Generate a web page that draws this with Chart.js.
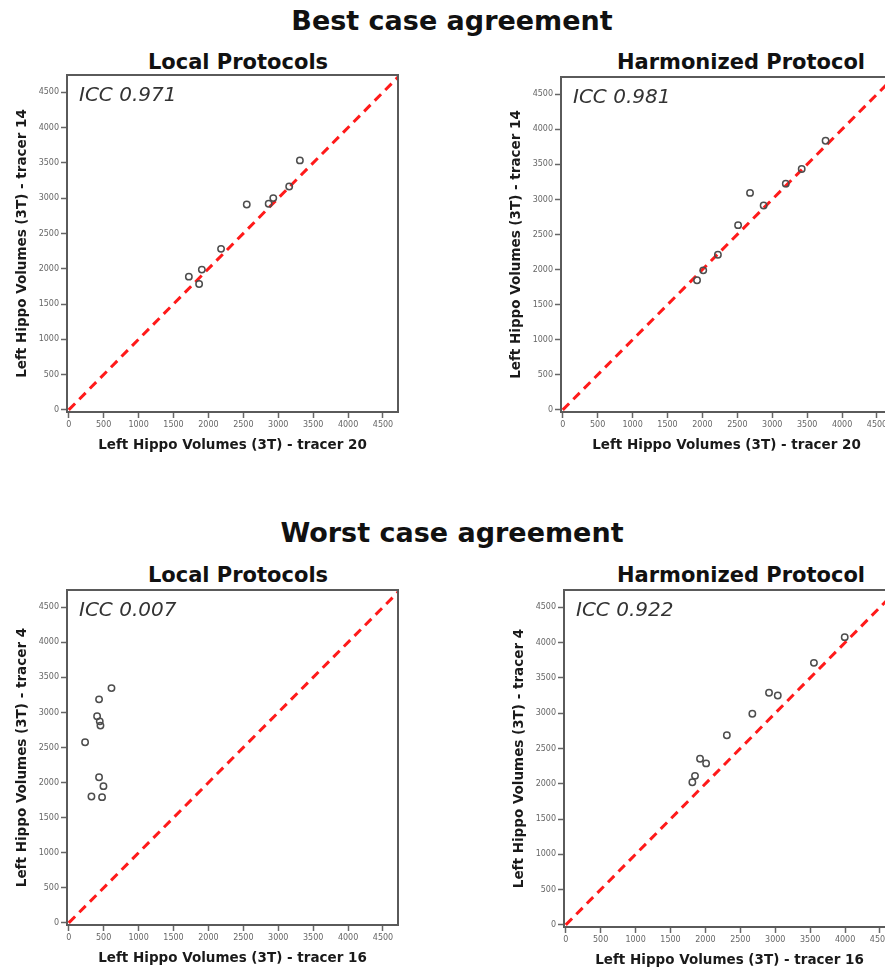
<!DOCTYPE html>
<html>
<head>
<meta charset="utf-8">
<script src="https://cdn.jsdelivr.net/npm/chart.js@4"></script>
<style>
  html, body { margin: 0; padding: 0; background: #fff; overflow: hidden; }
  body { width: 885px; height: 969px; position: relative; }
  .head {
    position: absolute; width: 600px; text-align: center; white-space: nowrap;
    font-family: "DejaVu Sans", sans-serif; font-weight: bold; color: #111;
  }
  .big { font-size: 27px; line-height: 32px; }
  .sub { font-size: 21px; line-height: 26px; }
  canvas { position: absolute; }
</style>
</head>
<body>
<div class="head big" style="left:152px; top:5px;">Best case agreement</div>
<div class="head sub" style="left:-62px; top:49px;">Local Protocols</div>
<div class="head sub" style="left:441px; top:49px;">Harmonized Protocol</div>
<canvas id="bestLocal"></canvas>
<canvas id="bestHarm"></canvas>

<div class="head big" style="left:152px; top:517px;">Worst case agreement</div>
<div class="head sub" style="left:-62px; top:562px;">Local Protocols</div>
<div class="head sub" style="left:441px; top:562px;">Harmonized Protocol</div>
<canvas id="worstLocal"></canvas>
<canvas id="worstHarm"></canvas>

<script>
// axis ticks (both axes)
const tickValues = [0, 500, 1000, 1500, 2000, 2500, 3000, 3500, 4000, 4500];
// line of identity
const identity = [0, 4800];

// best case: tracer 20 (x) vs tracer 14 (y)
const bestLocalX = [1720, 1867, 1906, 2181, 2549, 2863, 2929, 3157, 3310];
const bestLocalY = [1888, 1784, 1988, 2282, 2910, 2920, 3001, 3166, 3535];
const bestHarmX = [1923, 2012, 2222, 2511, 2682, 2877, 3194, 3422, 3764];
const bestHarmY = [1847, 1989, 2212, 2633, 3093, 2913, 3225, 3434, 3836];

// worst case: tracer 16 (x) vs tracer 4 (y)
const worstLocalX = [612, 434, 406, 444, 454, 234, 434, 497, 325, 477];
const worstLocalY = [3347, 3186, 2945, 2873, 2812, 2575, 2077, 1949, 1802, 1792];
const worstHarmX = [1813, 1851, 1923, 2010, 2307, 2672, 2911, 3036, 3554, 3995];
const worstHarmY = [2022, 2112, 2354, 2288, 2687, 2991, 3290, 3251, 3713, 4077];

const iccLabels = ['ICC 0.971', 'ICC 0.981', 'ICC 0.007', 'ICC 0.922'];

const AXIS_W = 60, AXIS_H = 46, PAD_T = 12, PAD_R = 12;

// frame around the plot and the ICC text
const framePlugin = {
  id: 'frame',
  afterDraw(chart, args, opts) {
    const a = chart.chartArea;
    const ctx = chart.ctx;
    ctx.save();
    ctx.strokeStyle = '#5a5a5a';
    ctx.lineWidth = 2;
    ctx.strokeRect(a.left, a.top, a.right - a.left, a.bottom - a.top);
    ctx.fillStyle = '#333';
    ctx.font = 'italic 20px "DejaVu Sans"';
    ctx.textBaseline = 'alphabetic';
    ctx.fillText(opts.label, a.left + 12, a.top + 26);
    ctx.restore();
  }
};

function makePanel(id, box, xs, ys, xTitle, yTitle, icc) {
  const canvas = document.getElementById(id);
  canvas.width = box.w + AXIS_W + PAD_R;
  canvas.height = box.h + PAD_T + AXIS_H;
  canvas.style.left = (box.left - AXIS_W) + 'px';
  canvas.style.top = (box.top - PAD_T) + 'px';

  const points = xs.map((x, i) => ({x: x, y: ys[i]}));
  const line = identity.map(v => ({x: v, y: v}));

  const tickFont = {family: 'DejaVu Sans', size: 8};
  const titleFont = {family: 'DejaVu Sans', size: 13.5, weight: 'bold'};
  const grid = {drawOnChartArea: false, drawTicks: true, tickLength: 6, tickColor: '#666', tickWidth: 1.5};
  const plain = v => String(v);

  new Chart(canvas, {
    type: 'scatter',
    data: {
      datasets: [{
        data: points,
        pointStyle: 'circle',
        pointRadius: 3.2,
        pointBorderWidth: 1.5,
        pointBorderColor: '#4d4d4d',
        pointBackgroundColor: 'rgba(255,255,255,0)'
      }, {
        data: line,
        showLine: true,
        borderColor: '#ff1a1a',
        borderWidth: 3,
        borderDash: [9, 6],
        pointRadius: 0
      }]
    },
    options: {
      responsive: false,
      animation: false,
      layout: {padding: {left: 0, top: PAD_T, right: PAD_R, bottom: 0}},
      plugins: {
        legend: {display: false},
        tooltip: {enabled: false},
        frame: {label: icc}
      },
      scales: {
        x: {
          type: 'linear', min: -25, max: 4715,
          afterBuildTicks: s => { s.ticks = tickValues.map(v => ({value: v})); },
          afterFit: s => { s.height = AXIS_H; },
          grid: grid,
          border: {display: false},
          ticks: {color: '#666', font: tickFont, padding: 2, maxRotation: 0, autoSkip: false, callback: plain},
          title: {display: true, text: xTitle, color: '#1a1a1a', font: titleFont, padding: {top: 0, bottom: 4}}
        },
        y: {
          type: 'linear', min: -30, max: 4745,
          afterBuildTicks: s => { s.ticks = tickValues.map(v => ({value: v})); },
          afterFit: s => { s.width = AXIS_W; },
          grid: grid,
          border: {display: false},
          ticks: {color: '#666', font: tickFont, padding: 2, autoSkip: false, callback: plain},
          title: {display: true, text: yTitle, color: '#1a1a1a', font: titleFont, padding: {top: 7, bottom: 0}}
        }
      }
    },
    plugins: [framePlugin]
  });
}

document.addEventListener('DOMContentLoaded', function(){
  makePanel('bestLocal', {left: 67, top: 75, w: 331, h: 337}, bestLocalX, bestLocalY,
    'Left Hippo Volumes (3T) - tracer 20', 'Left Hippo Volumes (3T) - tracer 14', iccLabels[0]);
  makePanel('bestHarm', {left: 561, top: 77, w: 331, h: 335}, bestHarmX, bestHarmY,
    'Left Hippo Volumes (3T) - tracer 20', 'Left Hippo Volumes (3T) - tracer 14', iccLabels[1]);
  makePanel('worstLocal', {left: 67, top: 590, w: 331, h: 335}, worstLocalX, worstLocalY,
    'Left Hippo Volumes (3T) - tracer 16', 'Left Hippo Volumes (3T) - tracer 4', iccLabels[2]);
  makePanel('worstHarm', {left: 564, top: 590, w: 331, h: 337}, worstHarmX, worstHarmY,
    'Left Hippo Volumes (3T) - tracer 16', 'Left Hippo Volumes (3T) - tracer 4', iccLabels[3]);
});
</script>
</body>
</html>
